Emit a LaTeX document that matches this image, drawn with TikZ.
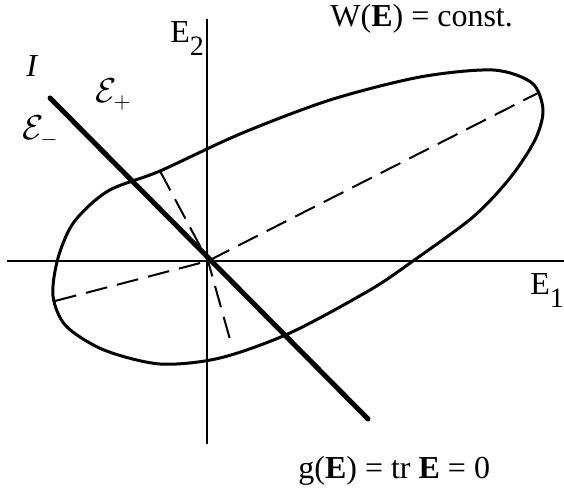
\documentclass[tikz,border=0pt]{standalone}
\usepackage{fontspec}
\setmainfont{Liberation Serif}
\usetikzlibrary{calc}
\newcommand{\lowsub}[1]{\raisebox{-0.38em}{\fontsize{14}{14}\selectfont #1}}

\begin{document}
\begin{tikzpicture}[x=0.5pt,y=-0.5pt,
  axisline/.style={line width=1pt},
  curveline/.style={line width=1.5pt},
  dashline/.style={line width=1pt,dash pattern=on 11pt off 5pt},
  lbl/.style={inner sep=0pt,font=\fontsize{16}{19}\selectfont}]
  \useasboundingbox (0,0) rectangle (564,491);
  \coordinate (O) at (208,261);
  % axes
  \coordinate (xl) at (7,261);
  \coordinate (xr) at (570,261);
  \coordinate (yt) at (207,19);
  \coordinate (yb) at (207,444);
  \draw[axisline] (xl) -- (xr);
  \draw[axisline] (yt) -- (yb);
  % level curve W(E) = const.
  \draw[curveline] plot[smooth cycle] coordinates {
    (53,296) (58,258) (74,222) (108,191) (160,171) (240,134) (330,100)
    (420,77) (493,70) (532,83) (543,110) (535,140) (510,178) (473,217)
    (413,261) (370,290) (290,333) (220,358) (160,364) (104,350) (66,326)};
  % dashed diameters
  \coordinate (ma) at (55,301);
  \coordinate (mb) at (538,93);
  \coordinate (na) at (160,171);
  \coordinate (nb) at (231,343);
  \draw[dashline] (ma) -- (O) -- (mb);
  \draw[dashline] (na) -- (O) -- (nb);
  % line I
  \coordinate (ia) at (50,98);
  \coordinate (ib) at (368,419);
  \draw[line width=2.5pt,line cap=round] (ia) -- (ib);
  % labels
  \node[lbl,anchor=base west] (wlbl) at (330,27) {W(\textbf{E}) = const.};
  \node[lbl,anchor=base west] (glbl) at (298,479) {g(\textbf{E}) = tr \textbf{E} = 0};
  \node[lbl,anchor=base west] (etwo) at (170,43) {E\lowsub{2}};
  \node[lbl,anchor=base west] (eone) at (530,295) {E\lowsub{1}};
  \node[lbl,anchor=base west] (ilbl) at (26,77) {\textit{I}};
  \node[lbl,anchor=base west] (eplus) at (95,103) {$\mathcal{E}_+$};
  \node[lbl,anchor=base west] (eminus) at (22,140) {$\mathcal{E}_-$};
\end{tikzpicture}
\end{document}
